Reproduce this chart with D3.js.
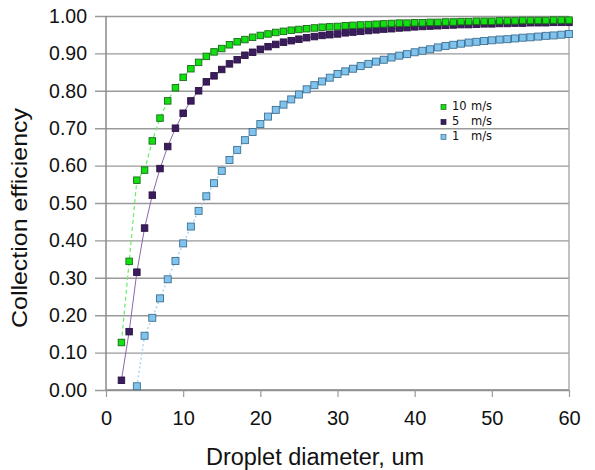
<!DOCTYPE html>
<html><head><meta charset="utf-8">
<script src="https://cdn.jsdelivr.net/npm/d3@7"></script>
<style>body{margin:0;background:#fff}svg{display:block}</style>
</head><body>
<svg id="c" width="595" height="470"></svg>
<script>
const xTicks = [0,10,20,30,40,50,60];
const yTicks = [0,0.1,0.2,0.3,0.4,0.5,0.6,0.7,0.8,0.9,1.0];
const seriesNames = ["10 m/s","5 m/s","1 m/s"];
const xGreen = d3.range(2,61);
const green = [0.127,0.344,0.561,0.588,0.666,0.727,0.773,0.808,0.836,0.859,0.876,0.892,0.904,0.913,0.923,0.931,0.937,0.943,0.948,0.952,0.956,0.959,0.962,0.964,0.966,0.968,0.970,0.971,0.972,0.974,0.975,0.976,0.977,0.978,0.979,0.980,0.981,0.981,0.982,0.982,0.983,0.983,0.984,0.984,0.985,0.985,0.986,0.986,0.986,0.987,0.987,0.987,0.988,0.988,0.988,0.988,0.989,0.989,0.989];
const xPurple = d3.range(2,61);
const purple = [0.026,0.156,0.315,0.433,0.521,0.592,0.651,0.700,0.740,0.773,0.800,0.824,0.840,0.857,0.872,0.883,0.895,0.903,0.911,0.918,0.924,0.930,0.934,0.938,0.942,0.945,0.948,0.950,0.952,0.955,0.957,0.959,0.961,0.963,0.965,0.966,0.968,0.969,0.971,0.972,0.973,0.974,0.975,0.976,0.977,0.977,0.978,0.979,0.979,0.980,0.980,0.981,0.981,0.982,0.982,0.982,0.983,0.983,0.983];
const xBlue = d3.range(4,61);
const blue = [0.010,0.145,0.193,0.245,0.296,0.345,0.392,0.437,0.479,0.518,0.553,0.586,0.615,0.642,0.668,0.690,0.711,0.731,0.749,0.763,0.777,0.790,0.804,0.815,0.825,0.835,0.845,0.852,0.859,0.866,0.872,0.878,0.883,0.889,0.894,0.898,0.903,0.907,0.911,0.916,0.920,0.923,0.926,0.929,0.931,0.933,0.935,0.937,0.938,0.940,0.942,0.943,0.945,0.947,0.948,0.950,0.952];

const svg = d3.select("#c");
const font = "Liberation Sans, Arial, sans-serif";
const x = d3.scaleLinear().domain([0,60]).range([106,569]);
const y = d3.scaleLinear().domain([0,1]).range([390,16]);

// gridlines + y axis
const yAxis = d3.axisLeft(y).tickValues(yTicks).tickFormat(d3.format(".2f"))
  .tickSize(-(569-106)).tickPadding(19);
const gy = svg.append("g").attr("transform","translate(106,0)").call(yAxis);
gy.select(".domain").remove();
gy.selectAll(".tick line").attr("x1",-11).attr("stroke","#9a9a9a").attr("stroke-width",1.4);
gy.selectAll(".tick text").attr("font-family",font).attr("font-size",19.5).attr("fill","#111")
  .attr("x",-19);

// x axis
const xAxis = d3.axisBottom(x).tickValues(xTicks).tickSize(7).tickPadding(14);
const gx = svg.append("g").attr("transform","translate(0,390)").call(xAxis);
gx.select(".domain").attr("stroke","#8a8a8a").attr("stroke-width",1.5).attr("d","M106,0H569");
gx.selectAll(".tick line").attr("stroke","#9a9a9a").attr("stroke-width",1.2);
gx.selectAll(".tick text").attr("font-family",font).attr("font-size",20).attr("fill","#111");

// left axis line and right border
svg.append("line").attr("x1",106).attr("x2",106).attr("y1",y(1)).attr("y2",390)
  .attr("stroke","#8a8a8a").attr("stroke-width",1.5);
svg.append("line").attr("x1",569).attr("x2",569).attr("y1",y(1)).attr("y2",390)
  .attr("stroke","#a8a8a8").attr("stroke-width",1.4);

// titles
svg.append("text").attr("x",315).attr("y",465).attr("text-anchor","middle")
  .attr("font-family",font).attr("font-size",23.5).attr("fill","#111").text("Droplet diameter, um");
svg.append("text").attr("transform","translate(27,218) rotate(-90)").attr("text-anchor","middle")
  .attr("font-family",font).attr("font-size",21.5).attr("fill","#111")
  .attr("textLength",220).attr("lengthAdjust","spacingAndGlyphs").text("Collection efficiency");

const series = [
  {xs:xBlue, ys:blue, line:"#a9d6f2", dash:"2,2.5", lw:1.5, fill:"#7fc4ee", stroke:"#3f6f90", size:7},
  {xs:xPurple, ys:purple, line:"#8a6aa6", dash:null, lw:1, fill:"#3b1c5e", stroke:"#2a1242", size:6.5},
  {xs:xGreen, ys:green, line:"#66ee66", dash:"4,3", lw:1.2, fill:"#11e011", stroke:"#1a6a1a", size:6.5}
];
const line = d3.line().x(d=>x(d[0])).y(d=>y(d[1]));
series.forEach(s=>{
  const pts = s.xs.map((v,i)=>[v,s.ys[i]]);
  svg.append("path").datum(pts).attr("d",line).attr("fill","none")
    .attr("stroke",s.line).attr("stroke-width",s.lw).attr("stroke-dasharray",s.dash);
});
series.forEach(s=>{
  const pts = s.xs.map((v,i)=>[v,s.ys[i]]);
  svg.append("g").selectAll("rect").data(pts).join("rect")
    .attr("x",d=>x(d[0])-s.size/2).attr("y",d=>y(d[1])-s.size/2)
    .attr("width",s.size).attr("height",s.size)
    .attr("fill",s.fill).attr("stroke",s.stroke).attr("stroke-width",0.9);
});

// legend
const legend = [
  {num:"10", fill:"#11e011", stroke:"#1a6a1a", yb:109.5},
  {num:"5", fill:"#3b1c5e", stroke:"#2a1242", yb:124.5},
  {num:"1", fill:"#7fc4ee", stroke:"#3f6f90", yb:139.5}
];
legend.forEach((l,i)=>{
  svg.append("rect").attr("x",441).attr("y",l.yb-5).attr("width",5).attr("height",5)
    .attr("fill",l.fill).attr("stroke",l.stroke).attr("stroke-width",0.7);
  svg.append("text").attr("x",452).attr("y",l.yb).attr("font-family","DejaVu Sans, Verdana, sans-serif")
    .attr("font-size",11.5).attr("fill","#111").text(l.num);
  svg.append("text").attr("x",471).attr("y",l.yb).attr("font-family","DejaVu Sans, Verdana, sans-serif")
    .attr("font-size",11.5).attr("fill","#111").text(seriesNames[i].split(" ")[1]);
});
</script>
</body></html>
